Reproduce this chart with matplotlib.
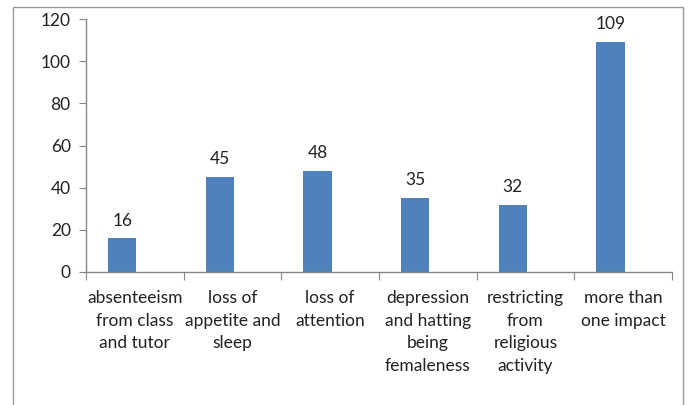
import matplotlib
matplotlib.use("Agg")
import matplotlib.pyplot as plt
from matplotlib.patches import Rectangle

categories = ["absenteeism\nfrom class\nand tutor", "loss of\nappetite and\nsleep", "loss of\nattention",
              "depression\nand hatting\nbeing\nfemaleness", "restricting\nfrom\nreligious\nactivity",
              "more than\none impact"]
values = [16, 45, 48, 35, 32, 109]
yticks = [0, 20, 40, 60, 80, 100, 120]

plt.rcParams['font.family'] = ['Lato', 'DejaVu Sans']
fig = plt.figure(figsize=(6.89, 4.05), dpi=100)
ax = fig.add_axes([86/689, 1-272/405, (672-86)/689, (272-19)/405])

x = list(range(len(values)))
offset = -0.13
xb = [xi + offset for xi in x]
ax.bar(xb, values, width=0.29, color='#4F81BD')
for xi, v in zip(xb, values):
    ax.annotate(str(v), (xi, v), xytext=(0, 7), textcoords='offset points',
                ha='center', va='bottom', fontsize=12.5, color='#222222')

ax.set_xlim(-0.5, len(values)-0.5)
ax.set_ylim(0, 120)
ax.set_yticks(yticks)
ax.tick_params(axis='y', length=5, color='#868686', labelsize=12.5, labelcolor='#222222', pad=6)
ax.set_xticks([i-0.5 for i in range(len(values)+1)])
ax.set_xticklabels([])
ax.set_xticks(x, minor=True)
ax.set_xticklabels(categories, minor=True, fontsize=12.5, color='#222222', linespacing=1.5, va='top', ha='center')
ax.tick_params(axis='x', which='major', length=6, color='#868686', direction='out')
ax.tick_params(axis='x', which='minor', length=0, pad=13)
for s in ['top', 'right']:
    ax.spines[s].set_visible(False)
for s in ['left', 'bottom']:
    ax.spines[s].set_color('#868686')
    ax.spines[s].set_linewidth(1)

fig.patches.append(Rectangle((13/689, -0.2), 670/689, 1.2-7/405, transform=fig.transFigure,
                             fill=False, edgecolor='#9a9a9a', linewidth=1.0))
fig.savefig('out.png', dpi=100)
